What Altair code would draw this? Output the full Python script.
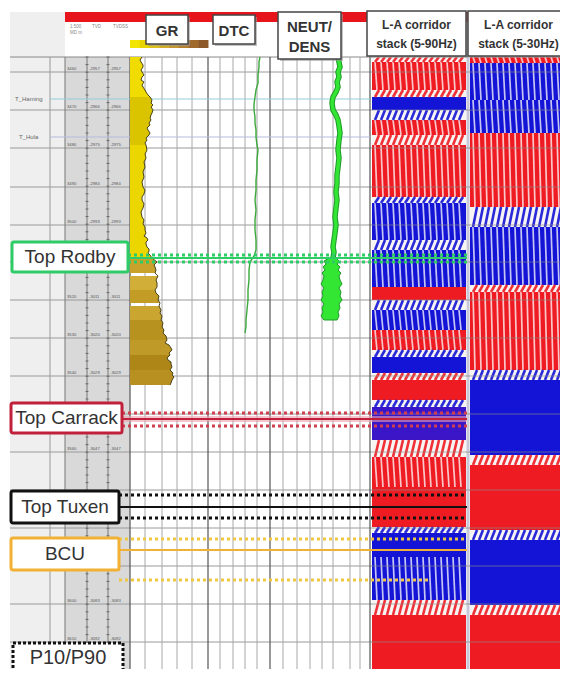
import altair as alt
import pandas as pd
import numpy as np

# ---------------- data (screen-like track units) ----------------
# GR log: depth (y) and curve value (x), fill from track edge
GR_DEPTH = [57, 60, 62, 65, 67, 70, 72, 75, 77, 80, 82, 85, 87, 90, 92, 95, 97, 100, 103, 105, 107, 110,
            113, 115, 118, 120, 123, 125, 128, 130, 133, 135, 138, 140, 143, 145,
            150, 154, 158, 162, 167, 172, 177, 182, 187, 190, 194, 197, 200, 204, 208, 212, 217, 220, 224,
            227, 230, 233, 236, 238, 240, 242, 244, 247, 249, 251, 253, 255, 258,
            262, 265, 267, 270, 273, 276, 280, 283, 287, 290, 293, 296, 300, 303, 306, 310, 313, 316, 320,
            323, 327, 330, 333, 336, 340, 343, 345, 348, 350, 353, 355, 358, 360, 362, 364,
            367, 370, 373, 375, 377, 380, 383, 385]
GR_VAL = [142, 140, 141, 143, 143, 141, 142, 144, 142, 141, 144, 142, 143, 145, 146, 148, 150, 152, 151, 153,
          151, 153, 152, 151, 150, 151, 149, 150, 147, 148, 150, 149, 146, 147, 145, 146,
          147, 145, 146, 144, 145, 143, 144, 142, 143, 145, 144, 142, 142, 144, 143, 141, 142, 144, 143,
          145, 145, 146, 144, 147, 148, 146, 146, 147, 149, 149, 148, 150, 152,
          157, 154, 155, 156, 155, 158, 156, 157, 157, 155, 156, 159, 158, 160, 159, 161, 160, 162, 161,
          163, 162, 164, 163, 166, 167, 165, 169, 171, 172, 169, 170, 167, 168, 171, 171,
          172, 170, 173, 172, 174, 172, 171, 170]
GR_SEGMENTS = [(57, 97, "#f0dc00"), (97, 145, "#dac400"), (145, 258, "#ecd600"),
               (258, 275, "#c8a22a"), (275, 290, "#d0ae38"), (290, 305, "#c29c24"),
               (305, 320, "#caa630"), (320, 340, "#b8921e"), (340, 355, "#c09a28"),
               (355, 370, "#ae8618"), (370, 385, "#b89022")]
GR_BASE = 130

DTC_DEPTH = [57, 62, 67, 75, 83, 90, 97, 104, 110, 117, 123, 130, 137, 145, 150, 160, 170, 180, 190, 200,
             210, 220, 230, 240, 250, 256, 262, 270, 280, 290, 300, 310, 320, 326, 333]
DTC_VAL = [260, 259, 259, 258, 258, 256, 255, 254, 254, 255, 255, 256, 256, 257, 258, 257, 257, 256, 256, 255,
           256, 255, 255, 256, 256, 254, 250, 249, 249, 248, 248, 247, 246, 246, 245]

NEUT_DEPTH = [57, 62, 67, 72, 77, 82, 87, 92, 97, 103, 110, 115, 120, 126, 133, 140, 150, 158, 167, 175,
              183, 192, 200, 208, 217, 225, 233, 240, 247, 252, 258]
NEUT_VAL = [338, 339, 340, 338, 339, 337, 338, 336, 333, 332, 333, 336, 338, 339, 340, 339, 338, 339, 338, 337,
            337, 336, 337, 336, 335, 336, 335, 334, 333, 334, 333]
ND_DEPTH = [258, 261, 264, 267, 270, 273, 276, 280, 284, 288, 292, 296, 300, 304, 308, 312, 316, 320]
ND_LEFT = [329, 324, 326, 323, 325, 322, 324, 323, 321, 324, 322, 323, 321, 324, 322, 323, 321, 324]
ND_RIGHT = [336, 339, 337, 340, 338, 341, 339, 340, 342, 339, 341, 340, 342, 339, 340, 338, 339, 337]

# grid
GRID_Y = [72, 110, 148, 187, 225, 262, 300, 338, 376, 414, 452, 490, 528, 566, 604, 642]
GRID_X = [145, 162, 177, 192, 220, 233, 245, 257, 283, 297, 310, 322, 333, 350, 360]
GRID_X_DARK = [130, 208, 270, 370]
DEPTH_COL_X = [65, 87, 108]
DEPTH_MD = ["3460", "3470", "3480", "3490", "3500", "3510", "3520", "3530",
            "3540", "3550", "3560", "3570", "3580", "3590", "3600", "3610"]
DEPTH_TVD = ["-2957", "-2966", "-2975", "-2984", "-2993", "-3002", "-3011", "-3020",
             "-3029", "-3038", "-3047", "-3056", "-3065", "-3074", "-3083", "-3092"]

# seismic corridor stacks: (top, bottom, colour, texture)
RED, BLUE = "#ee1c22", "#1414d6"
P1_BANDS = [(57, 62, RED, "wig"), (62, 90, RED, "stripe"), (90, 97, RED, "wig"), (97, 110, BLUE, "solid"),
            (110, 120, BLUE, "wig"), (120, 135, RED, "stripe"), (135, 145, RED, "wig"),
            (145, 197, RED, "stripe"), (197, 203, BLUE, "wig"), (203, 240, BLUE, "stripe"),
            (240, 250, BLUE, "wig"), (250, 287, BLUE, "stripe"), (287, 300, RED, "solid"),
            (300, 310, BLUE, "wig"), (310, 330, BLUE, "stripe"), (330, 350, RED, "stripe"),
            (350, 357, BLUE, "wig"), (357, 373, BLUE, "solid"), (373, 380, RED, "wig"),
            (380, 400, RED, "solid"), (400, 407, BLUE, "wig"), (407, 440, "#3a16c8", "solid"),
            (440, 457, RED, "wig"), (457, 487, RED, "stripe"), (487, 527, RED, "solid"),
            (527, 533, BLUE, "wig"), (533, 557, BLUE, "solid"), (557, 600, BLUE, "stripe"),
            (600, 615, RED, "wig"), (615, 670, RED, "solid"), (670, 677, RED, "wig")]
P2_BANDS = [(57, 63, RED, "stripe"), (63, 100, BLUE, "stripe"), (100, 133, BLUE, "stripe"),
            (133, 207, RED, "stripe"), (207, 227, BLUE, "wig"), (227, 285, BLUE, "stripe"),
            (285, 292, RED, "wig"), (292, 370, RED, "stripe"), (370, 380, BLUE, "wig"),
            (380, 455, BLUE, "solid"), (455, 465, RED, "wig"), (465, 530, RED, "solid"),
            (530, 540, BLUE, "wig"), (540, 605, BLUE, "solid"), (605, 615, RED, "wig"),
            (615, 677, RED, "solid")]
P1_X = (372, 466)
P2_X = (470, 568)

# formation tops: name, solid depth, dotted depths, colour, dotted colour, label box
TOPS = [
    ("Top Rodby", 258, [255, 262], "#2ecc66", "#2ecc66", (12, 128, 242, 272)),
    ("Top Carrack", 419, [413, 426], "#c0203a", "#d0404e", (11, 122, 403, 433)),
    ("Top Tuxen", 507, [495, 518], "#111111", "#111111", (11, 119, 491, 523)),
    ("BCU", 550, [539, 580], "#f2b134", "#f0c844", (11, 119, 538, 570)),
]
TOP_LINE_END = 467

HEADERS = [("GR", ["GR"], (146, 188, 15, 44)),
           ("DTC", ["DTC"], (213, 255, 15, 44)),
           ("ND", ["NEUT/", "DENS"], (278, 341, 12, 59)),
           ("S1", ["L-A corridor", "stack (5-90Hz)"], (367, 466, 11, 56)),
           ("S2", ["L-A corridor", "stack (5-30Hz)"], (468, 569, 11, 56))]
GR_SCALE_COLORS = ["#f2e600", "#e8d400", "#dcc018", "#d0ac28", "#c49630", "#b48030", "#a06a2c", "#8c5828"]

# ---------------- chart helpers ----------------
X0, X1, Y0, Y1 = 8, 560, 8, 669
xs = alt.Scale(domain=[X0, X1], nice=False, zero=False)
ys = alt.Scale(domain=[Y0, Y1], reverse=True, nice=False, zero=False)
FONT = "Liberation Sans"


def X(f="x"):
    return alt.X(f"{f}:Q", scale=xs, axis=None)


def Y(f="y"):
    return alt.Y(f"{f}:Q", scale=ys, axis=None)


def rect_layer(rows, **kw):
    df = pd.DataFrame(rows, columns=["x", "x2", "y", "y2", "c"])
    return alt.Chart(df).mark_rect(**kw).encode(x=X(), x2="x2:Q", y=Y(), y2="y2:Q",
                                                 color=alt.Color("c:N", scale=None))


def rule_layer(rows, **kw):
    df = pd.DataFrame(rows, columns=["x", "x2", "y", "y2", "c"])
    return alt.Chart(df).mark_rule(**kw).encode(x=X(), x2="x2:Q", y=Y(), y2="y2:Q",
                                                 color=alt.Color("c:N", scale=None))


def text_layer(rows, **kw):
    df = pd.DataFrame(rows, columns=["x", "y", "t"])
    return alt.Chart(df).mark_text(font=FONT, **kw).encode(x=X(), y=Y(), text="t:N")


layers = []

# backgrounds
layers.append(rect_layer([(10, 65, 12, 677, "#efefef"),
                          (65, 130, 57, 677, "#d9d9d9"),
                          (65, 568, 22, 57, "#ffffff")]))
# header red bar
layers.append(rect_layer([(65, 568, 12, 22, "#e8141c")]))
# GR colour scale bar
n = len(GR_SCALE_COLORS)
seg_w = (208 - 130) / n
layers.append(rect_layer([(130 + i * seg_w, 130 + (i + 1) * seg_w + 0.5, 40, 48, c)
                          for i, c in enumerate(GR_SCALE_COLORS)]))
# faint header sub-text
layers.append(text_layer([(70, 27, "1:500"), (92, 27, "TVD"), (113, 27, "TVDSS"),
                          (70, 33, "MD m")], fontSize=4.5, color="#888", align="left"))

# grid lines
grid_rows = [(10, 568, y, y, "#9a9a9a") for y in GRID_Y] + [(10, 568, 57, 57, "#888888")]
layers.append(rule_layer(grid_rows, strokeWidth=1))
vrows = [(x, x, 57, 677, "#a8a8a8") for x in GRID_X]
layers.append(rule_layer(vrows, strokeWidth=1))
layers.append(rule_layer([(x, x, 57, 677, "#555555") for x in GRID_X_DARK], strokeWidth=1.2))
layers.append(rule_layer([(x, x, 57, 677, "#777777") for x in DEPTH_COL_X] +
                         [(50, 50, 57, 677, "#999999")], strokeWidth=1))
# depth ticks
tick_rows = []
for y in np.arange(57, 677, 7.6):
    for x in [87, 108]:
        tick_rows.append((x - 1.5, x + 1.5, y, y, "#555555"))
layers.append(rule_layer(tick_rows, strokeWidth=0.8))
# depth labels (those hidden under the formation label boxes are left out)
lab = []
for y, md, tv in zip(GRID_Y, DEPTH_MD, DEPTH_TVD):
    hidden = any(b[2] - 4 <= y - 3 <= b[3] + 4 for *_, b in TOPS)
    if not hidden:
        lab += [(67, y - 3, md), (89, y - 3, tv), (110, y - 3, tv)]
layers.append(text_layer(lab, fontSize=4.2, color="#555", align="left"))

# marker lines T_Haming / T_Hula
layers.append(rule_layer([(50, 370, 99, 99, "#8fd0dc"), (50, 370, 137, 137, "#b4bcdc")], strokeWidth=1.2))
layers.append(text_layer([(15, 99, "T_Haming"), (19, 137, "T_Hula")], fontSize=6, color="#666",
                         align="left", baseline="middle"))

# seismic panels
def seismic(bands, xr):
    base, stripes_w, wig = [], [], []
    xa, xb = xr
    for (t, b, c, s) in bands:
        base.append((xa, xb, t, b, c if s != "wig" else "#f7f4f4"))
        for xt in np.arange(xa + 3, xb - 1, 6.0):
            if s == "stripe":
                stripes_w.append((xt, xt + 2, t, b, "#ffffff"))
            elif s == "wig":
                wig.append((xt, xt + 4, b, t, c))
    out = [rect_layer(base)]
    if stripes_w:
        out.append(rule_layer(stripes_w, strokeWidth=1.7, opacity=0.75))
    if wig:
        out.append(rule_layer(wig, strokeWidth=2.6, opacity=0.9))
    return out

layers += seismic(P1_BANDS, P1_X)
layers += seismic(P2_BANDS, P2_X)
layers.append(rule_layer([(468, 468, 57, 677, "#c8c8d8")], strokeWidth=3))
# grid lines over seismic
layers.append(rule_layer([(372, 568, y, y, "#8a8a8a") for y in GRID_Y], strokeWidth=0.8, opacity=0.8))

# GR fill
gr = pd.DataFrame({"d": GR_DEPTH, "v": GR_VAL})
gr["b"] = GR_BASE
for (t, b, c) in GR_SEGMENTS:
    seg = gr[(gr.d >= t) & (gr.d <= b)]
    layers.append(alt.Chart(seg).mark_area(orient="horizontal", color=c).encode(
        y=Y("d"), x=X("v"), x2="b:Q"))
layers.append(alt.Chart(gr).mark_line(color="#4a4418", strokeWidth=1).encode(
    y=Y("d"), x=X("v"), order=alt.Order("d:Q")))

# DTC
dtc = pd.DataFrame({"d": DTC_DEPTH, "v": DTC_VAL})
layers.append(alt.Chart(dtc).mark_line(color="#3aa83a", strokeWidth=1.4).encode(
    y=Y("d"), x=X("v"), order=alt.Order("d:Q")))

# NEUT / DENS
nd = pd.DataFrame({"d": NEUT_DEPTH, "v": NEUT_VAL})
layers.append(alt.Chart(nd).mark_line(color="#1f9a2a", strokeWidth=5.5).encode(
    y=Y("d"), x=X("v"), order=alt.Order("d:Q")))
layers.append(alt.Chart(nd).mark_line(color="#33e633", strokeWidth=3.5).encode(
    y=Y("d"), x=X("v"), order=alt.Order("d:Q")))
ndb = pd.DataFrame({"d": ND_DEPTH, "l": ND_LEFT, "r": ND_RIGHT})
layers.append(alt.Chart(ndb).mark_area(orient="horizontal", color="#33e633", stroke="#1f9a2a",
                                       strokeWidth=1).encode(
    y=Y("d"), x=X("l"), x2="r:Q"))

# formation tops lines
for name, yd, dots, col, dcol, box in TOPS:
    x_start = box[1]
    if name == "Top Carrack":
        layers.append(rule_layer([(x_start, TOP_LINE_END, yd, yd, "#f0a0b0")], strokeWidth=6, opacity=0.6))
    layers.append(rule_layer([(x_start, TOP_LINE_END, yd, yd, col)], strokeWidth=2.2))
    drows = []
    for dy in dots:
        end = 430 if (name == "BCU" and dy == dots[1]) else TOP_LINE_END
        drows.append((x_start, end, dy, dy, dcol))
    layers.append(rule_layer(drows, strokeWidth=3, strokeDash=[3, 3]))

# label boxes
box_df = pd.DataFrame([(b[0], b[1], b[2], b[3], col, name, (b[0] + b[1]) / 2, (b[2] + b[3]) / 2)
                       for name, yd, dots, col, dcol, b in TOPS],
                      columns=["x", "x2", "y", "y2", "s", "t", "xc", "yc"])
layers.append(alt.Chart(box_df).mark_rect(fill="white", strokeWidth=3, cornerRadius=2).encode(
    x=X(), x2="x2:Q", y=Y(), y2="y2:Q", stroke=alt.Stroke("s:N", scale=None)))
layers.append(alt.Chart(box_df).mark_text(font=FONT, fontSize=19, color="#333333").encode(
    x=X("xc"), y=Y("yc"), text="t:N"))

# P10/P90 box
pp = pd.DataFrame([(13, 123, 643, 673, 68, 658, "P10/P90")],
                  columns=["x", "x2", "y", "y2", "xc", "yc", "t"])
layers.append(alt.Chart(pp).mark_rect(fill="white", stroke="#111", strokeWidth=3,
                                      strokeDash=[3, 2]).encode(x=X(), x2="x2:Q", y=Y(), y2="y2:Q"))
layers.append(alt.Chart(pp).mark_text(font=FONT, fontSize=20, color="#333").encode(
    x=X("xc"), y=Y("yc"), text="t:N"))

# header boxes
hb = pd.DataFrame([(b[0], b[1], b[2], b[3]) for _, _, b in HEADERS], columns=["x", "x2", "y", "y2"])
hs = hb.copy()
hs[["x", "x2", "y", "y2"]] = hs[["x", "x2", "y", "y2"]] + 2
layers.append(alt.Chart(hs).mark_rect(fill="#9a9a9a", opacity=0.6).encode(
    x=X(), x2="x2:Q", y=Y(), y2="y2:Q"))
layers.append(alt.Chart(hb).mark_rect(fill="white", stroke="#444", strokeWidth=1.5).encode(
    x=X(), x2="x2:Q", y=Y(), y2="y2:Q"))
hrows_big, hrows_small = [], []
for key, lines, b in HEADERS:
    xc = (b[0] + b[1]) / 2
    yc = (b[2] + b[3]) / 2
    if len(lines) == 1:
        hrows_big.append((xc, yc + 1, lines[0]))
    else:
        tgt = hrows_big if key == "ND" else hrows_small
        gap = 10 if key == "ND" else 9.5
        tgt.append((xc, yc - gap + 1, lines[0]))
        tgt.append((xc, yc + gap + 1, lines[1]))
layers.append(text_layer(hrows_big, fontSize=15, fontWeight="bold", color="#333", baseline="middle"))
layers.append(text_layer(hrows_small, fontSize=12, fontWeight="bold", color="#333", baseline="middle"))

chart = alt.layer(*layers).properties(
    width=X1 - X0, height=Y1 - Y0, padding=0, background="white",
    autosize=alt.AutoSizeParams(type="none"),
).configure_view(stroke=None)

chart.save("out.html", embed_options={"renderer": "svg", "actions": False})
